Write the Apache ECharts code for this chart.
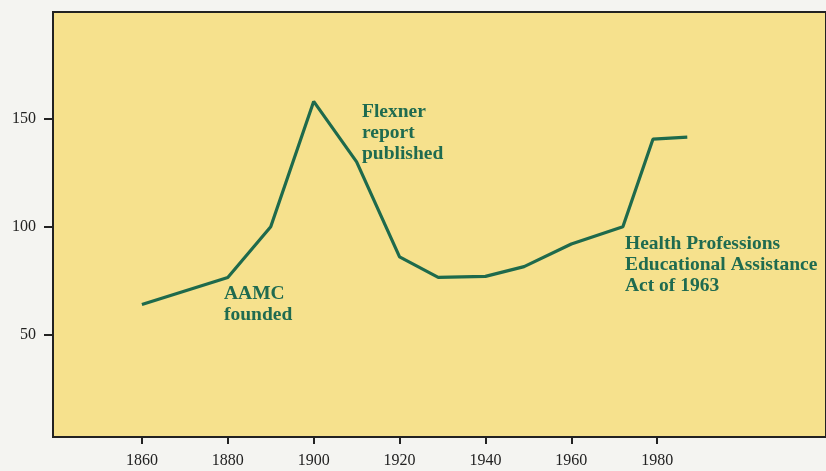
<!DOCTYPE html>
<html>
<head>
<meta charset="utf-8">
<script src="https://cdn.jsdelivr.net/npm/echarts@6/dist/echarts.min.js"></script>
<style>
html,body{margin:0;padding:0;background:#f4f4f1;}
#c{width:826px;height:471px;}
</style>
</head>
<body>
<div id="c"></div>
<script>
const years = [1860, 1880, 1890, 1900, 1910, 1920, 1929, 1940, 1949, 1960, 1972, 1979, 1987];
const values = [64, 76.5, 100, 158, 130, 86, 76.5, 77, 81.5, 92, 100, 140.5, 141.5];
const xTicks = [1860, 1880, 1900, 1920, 1940, 1960, 1980];
const yTicks = [50, 100, 150];
const notes = [
  { text: 'Flexner\nreport\npublished', left: 362, top: 101 },
  { text: 'AAMC\nfounded', left: 224, top: 283 },
  { text: 'Health Professions\nEducational Assistance\nAct of 1963', left: 625, top: 233 }
];

const serif = '"Liberation Serif", "DejaVu Serif", serif';
const green = '#1e6a4c';
const chart = echarts.init(document.getElementById('c'), null, { renderer: 'canvas' });
chart.setOption({
  backgroundColor: '#f4f4f1',
  animation: false,
  grid: {
    left: 53, top: 12, right: -4, bottom: 34,
    show: true, backgroundColor: '#f6e18d', borderColor: '#222', borderWidth: 2
  },
  xAxis: {
    type: 'value', min: 1839.3, max: 2019.3,
    splitLine: { show: false },
    axisLine: { show: true, lineStyle: { color: '#222', width: 2 } },
    axisTick: { show: true, inside: false, length: 7, customValues: xTicks, lineStyle: { color: '#222', width: 2 } },
    axisLabel: { customValues: xTicks, formatter: v => String(v), margin: 16, color: '#222', fontFamily: serif, fontSize: 16 }
  },
  yAxis: {
    type: 'value', min: 2.6, max: 199.4,
    splitLine: { show: false },
    axisLine: { show: true, lineStyle: { color: '#222', width: 2 } },
    axisTick: { show: true, inside: false, length: 9, customValues: yTicks, lineStyle: { color: '#222', width: 2 } },
    axisLabel: { customValues: yTicks, formatter: v => String(v), margin: 17, color: '#222', fontFamily: serif, fontSize: 16 }
  },
  series: [{
    type: 'line',
    data: years.map((y, i) => [y, values[i]]),
    symbol: 'none',
    lineStyle: { color: green, width: 3.2 },
    clip: false
  }],
  graphic: notes.map(n => ({
    type: 'text', left: n.left, top: n.top, z: 10,
    style: { text: n.text, fill: '#1f6b50', font: 'bold 19.5px ' + serif, lineHeight: 21 }
  }))
});
</script>
</body>
</html>
